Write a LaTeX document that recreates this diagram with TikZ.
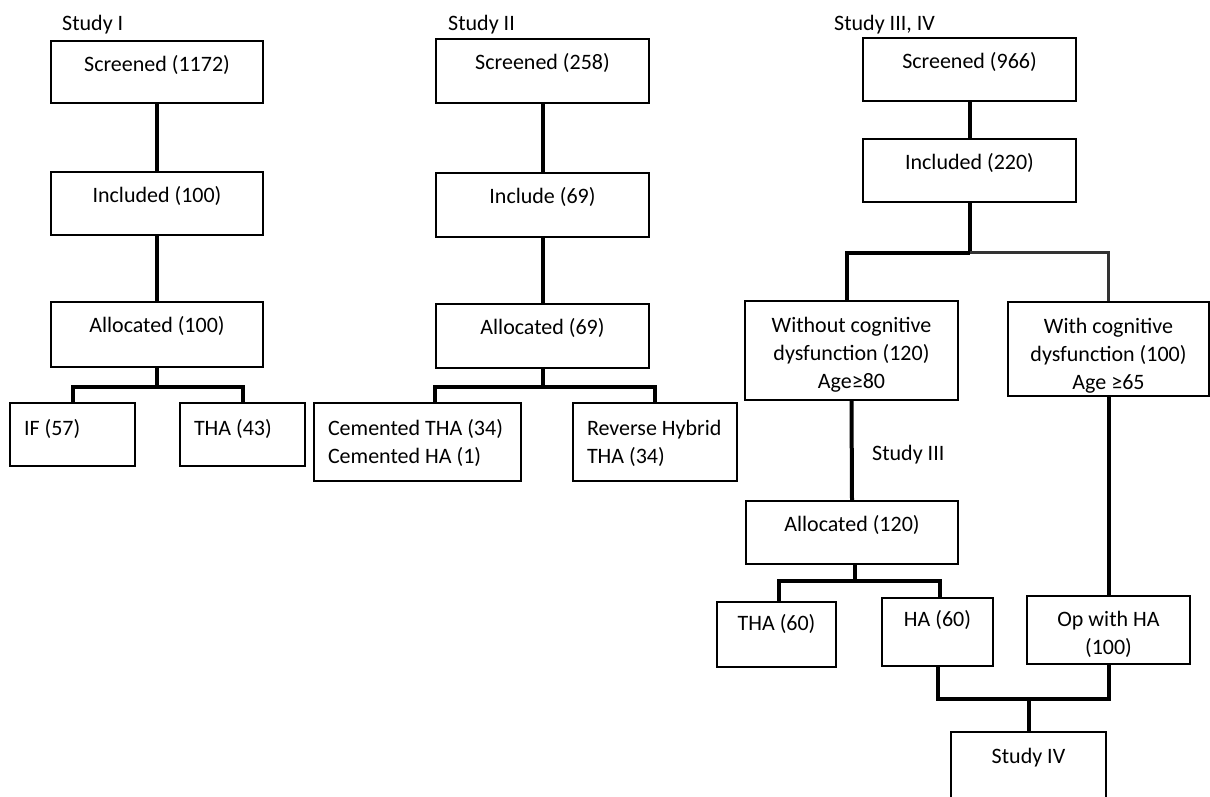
\documentclass[tikz,border=0pt]{standalone}
\usepackage{fontspec}
\setmainfont{Carlito}

\begin{document}
\begin{tikzpicture}[x=1pt, y=-1pt,
        font=\fontsize{22pt}{28pt}\selectfont,
        box/.style={draw, line width=1.5pt, anchor=north, inner xsep=0pt, inner ysep=0pt, align=flush center, text height=31pt},
        leftbox/.style={box, align=flush left, inner xsep=14pt},
        link/.style={line width=4pt},
        study/.style={anchor=base west, inner sep=0pt}]
        \useasboundingbox (0,0) rectangle (1210,796);

        \node[study] (labA) at (62,30) {Study I};
        \node[box, text width=212pt, text depth=31pt] (scrA) at (157,40) {Screened (1172)};
        \node[box, text width=212pt, text depth=32pt] (incA) at (157,171) {Included (100)};
        \node[box, text width=212pt, text depth=34pt] (allA) at (157,301) {Allocated (100)};
        \node[leftbox, text width=97pt, text height=33pt, text depth=30pt] (ifA) at (72.5,402) {IF (57)};
        \node[leftbox, text width=97pt, text height=33pt, text depth=30pt] (thaA) at (242.5,402) {THA (43)};

        \draw[link] (scrA) -- (incA);
        \draw[link] (incA) -- (allA);
        \draw[link] (allA.south) -- ++(0,19) coordinate (jA);
        \draw[link] (ifA.north) |- (jA) -| (thaA.north);

        \node[study] (labB) at (448,30) {Study II};
        \node[box, text width=213pt, text depth=33pt] (scrB) at (542.5,38) {Screened (258)};
        \node[box, text width=213pt, text depth=33pt] (incB) at (542.5,172) {Include (69)};
        \node[box, text width=213pt, text depth=33pt] (allB) at (542.5,303) {Allocated (69)};
        \node[leftbox, text width=179pt, text height=33pt, text depth=45pt] (cemB) at (417.5,402) {Cemented THA (34)\\Cemented HA (1)};
        \node[leftbox, text width=136pt, text height=33pt, text depth=45pt] (revB) at (655,402) {Reverse Hybrid\\THA (34)};

        \draw[link] (scrB) -- (incB);
        \draw[link] (incB) -- (allB);
        \draw[link] (allB.south) -- ++(0,18) coordinate (jB);
        \draw[link] ([xshift=17.5pt]cemB.north) |- (jB) -| (revB.north);

        \node[study] (labC) at (834,30) {Study III, IV};
        \node[box, text width=213pt, text depth=32pt] (scrC) at (969.5,37) {Screened (966)};
        \node[box, text width=213pt, text depth=32pt] (incC) at (969.5,138) {Included (220)};
        \node[box, text width=213pt, text height=32pt, text depth=67pt] (woC) at (851.5,300) {Without cognitive\\dysfunction (120)\\Age≥80};
        \node[box, text width=201pt, text height=32pt, text depth=62pt] (wiC) at (1108.5,301) {With cognitive\\dysfunction (100)\\Age ≥65};
        \node[study] (labIII) at (872,460) {Study III};
        \node[box, text width=212pt, text depth=32pt] (alC) at (852,500) {Allocated (120)};
        \node[box, text width=119pt, text height=29pt, text depth=36pt] (thaC) at (776.5,601) {THA (60)};
        \node[box, text width=111pt, text height=29pt, text depth=39pt] (haC) at (937.5,597) {HA (60)};
        \node[box, text width=163pt, text height=31pt, text depth=37pt] (opC) at (1108.5,595) {Op with HA\\(100)};
        \node[box, text width=155pt, text height=32pt, text depth=48pt] (s4C) at (1028.5,731) {Study IV};

        \draw[link] (scrC) -- (incC);
        \draw[link] (incC.south) -- ++(0,50) coordinate (jC);
        \draw[link] ([xshift=-4.5pt]woC.north) |- (jC);
        \draw[link, line width=3pt, black!80] (jC) -| (wiC.north);
        \draw[link] (woC.south) -- (alC.north);
        \draw[link] (wiC.south) -- (opC.north);
        \draw[link] ([xshift=3pt]alC.south) -- ++(0,16) coordinate (jD);
        \draw[link] ([xshift=2.5pt]thaC.north) |- (jD) -| ([xshift=2.5pt]haC.north);
        \draw[link] (haC.south) -- ++(0,32) coordinate (jE) -| (opC.south);
        \draw[link] (s4C.north) -- (s4C.north |- jE);
\end{tikzpicture}
\end{document}
